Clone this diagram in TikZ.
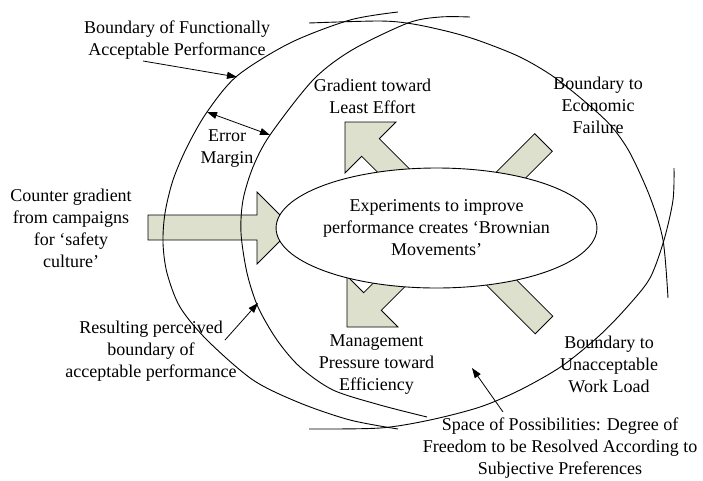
\documentclass[tikz,border=0pt]{standalone}
\usepackage{fontspec}
\setmainfont{Liberation Serif}
\usetikzlibrary{arrows.meta,shapes.geometric}
\definecolor{arrowfill}{RGB}{221,224,204}
\begin{document}
\begin{tikzpicture}[x=1pt,y=-1pt,
  lbl/.style={font=\fontsize{18}{22}\selectfont, align=center, inner sep=0pt},
  curve/.style={line width=0.9pt, black},
  blockarrow/.style={fill=arrowfill, draw=black, line width=0.8pt, line join=miter},
  pointer/.style={line width=0.8pt, -{Triangle[length=10pt,width=7pt]}},
  twoway/.style={line width=0.8pt, {Triangle[length=10pt,width=7pt]}-{Triangle[length=10pt,width=7pt]}},
]
\useasboundingbox (0,0) rectangle (703,480);

% block arrows (behind the ellipse)
\draw[blockarrow] (148,215) -- (257,215) -- (257,192) -- (293,228) -- (257,264) -- (257,240) -- (148,240) -- cycle;
\draw[blockarrow] (345,122) -- (396,122) -- (379.3,138.7) -- (479.3,238.7) -- (461.7,256.3) -- (361.7,156.3) -- (345,173) -- cycle;
\draw[blockarrow] (347,327) -- (347,276) -- (363.7,292.7) -- (463.7,192.7) -- (481.3,210.3) -- (381.3,310.3) -- (398,327) -- cycle;
\draw[blockarrow] (534.7,133.7) -- (552.3,151.3) -- (442.3,261.3) -- (424.7,243.7) -- cycle;
\draw[blockarrow] (535.2,333.8) -- (552.8,316.2) -- (442.8,206.2) -- (425.2,223.8) -- cycle;

% central ellipse
\node[ellipse, draw, fill=white, line width=0.9pt, minimum width=287pt, minimum height=120pt,
      inner sep=0pt, font=\fontsize{18}{22}\selectfont, align=center] (brown) at (436.5,228)
  {Experiments to improve\\performance creates ‘Brownian\\Movements’};

% boundary curves
\draw[curve] plot[smooth] coordinates {(398,12) (350,20) (290,43) (237,76) (207,112) (187,147) (173,180) (165,213) (163,243) (167,273) (180,307) (207,340) (253,380) (300,403) (350,420) (398,429)};
\draw[curve] plot[smooth] coordinates {(470,17) (440,17) (408,23) (352,50) (313,80) (270,135) (253,167) (243,200) (241,233) (247,273) (258,307) (277,340) (300,367) (333,390) (380,405) (427,417)};
\draw[curve] plot[smooth] coordinates {(309,23) (380,21) (413,24) (450,32) (480,41) (520,57) (554,77) (590,106) (612,127) (630,153) (650,197) (663,240) (668,298)};
\draw[curve] plot[smooth] coordinates {(674,168) (673,200) (664,240) (650,278) (628,306) (600,335) (562,366) (520,390) (480,407) (430,420) (380,428) (309,429)};

% labels
\node[lbl] (bfap) at (177,40) {Boundary of Functionally\\Acceptable Performance};
\node[lbl] (errm) at (227,149) {Error\\Margin};
\node[lbl] (grad) at (372.5,96.5) {Gradient toward\\Least Effort};
\node[lbl] (econ) at (598,105) {Boundary to\\Economic\\Failure};
\node[lbl] (counter) at (71,228) {Counter gradient\\from campaigns\\for ‘safety\\culture’};
\node[lbl] (mgmt) at (376.5,365) {Management\\Pressure toward\\Efficiency};
\node[lbl] (workload) at (609,364.5) {Boundary to\\Unacceptable\\Work Load};
\node[lbl] (result) at (151,351) {Resulting perceived\\boundary of\\acceptable performance};
\node[lbl] (space) at (560,448.5) {Space of Possibilities: Degree of\\Freedom to be Resolved According to\\Subjective Preferences};

% pointer arrows
\coordinate (bfapTail) at (143,61);
\coordinate (bfapTip) at (237,77);
\coordinate (errA) at (207,112);
\coordinate (errB) at (270,135);
\coordinate (resTail) at (225,340);
\coordinate (resTip) at (258,303);
\coordinate (spTail) at (503,412);
\coordinate (spTip) at (472,368);
\draw[pointer] (bfapTail) -- (bfapTip);
\draw[twoway] (errA) -- (errB);
\draw[pointer] (resTail) -- (resTip);
\draw[pointer] (spTail) -- (spTip);
\end{tikzpicture}
\end{document}
